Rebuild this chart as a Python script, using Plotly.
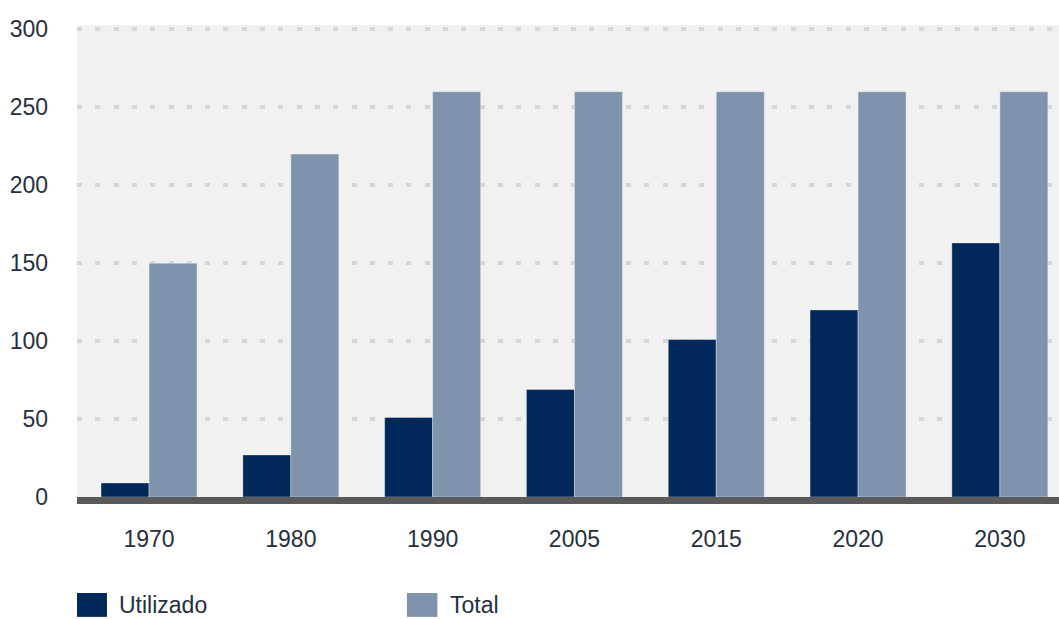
#!/usr/bin/env python3
import plotly.graph_objs as go
from typing import List

YEARS: List[str] = ['1970', '1980', '1990', '2005', '2015', '2020', '2030']
UTILIZADO: List[float] = [9, 27, 51, 69, 101, 120, 163]
TOTAL: List[float] = [150, 220, 260, 260, 260, 260, 260]
Y_TICKS: List[int] = [0, 50, 100, 150, 200, 250, 300]
LEGEND_NAMES: List[str] = ['Utilizado', 'Total']

NAVY: str = '#00285a'
STEEL: str = '#7f94ac'
TEXT: str = '#26303d'
FONT: str = 'Liberation Sans, Arial, sans-serif'


def build_figure() -> go.Figure:
    fig: go.Figure = go.Figure()
    for name, vals, color in [(LEGEND_NAMES[0], UTILIZADO, NAVY), (LEGEND_NAMES[1], TOTAL, STEEL)]:
        fig.add_trace(go.Bar(
            x=YEARS, y=vals, name=name,
            marker=dict(color=color, line=dict(color='rgba(255,255,255,0.35)', width=1)),
        ))

    fig.update_layout(
        width=1059, height=619,
        margin=dict(l=77, r=0, t=25, b=122),
        barmode='group', bargap=0.323, bargroupgap=0,
        paper_bgcolor='white',
        plot_bgcolor='#f1f1f1',
        showlegend=False,
        font=dict(family=FONT, size=23, color=TEXT),
        xaxis=dict(
            # the original chart is cropped on the right, last group sits near the edge
            range=[-0.508, 6.417],
            showgrid=False, zeroline=False,
            showline=True, linecolor='#5a5a5a', linewidth=7,
            ticks='', ticklabelstandoff=15,
            tickfont=dict(size=23, color=TEXT),
        ),
        yaxis=dict(
            range=[0, 302.8],
            tickvals=Y_TICKS,
            showgrid=True, gridcolor='#d6d6d6', gridwidth=4, griddash='5px,13.3px',
            zeroline=False, showline=False,
            ticks='', ticklabelstandoff=28,
            tickfont=dict(size=23, color=TEXT),
        ),
    )

    # legend drawn by hand, wide swatches like the original
    swatch_x = [(0.0, 0.0305), (0.336, 0.367)]
    for (x0, x1), name, color in zip(swatch_x, LEGEND_NAMES, [NAVY, STEEL]):
        fig.add_shape(type='rect', xref='paper', yref='paper',
                      x0=x0, x1=x1, y0=-0.254, y1=-0.2034,
                      fillcolor=color, line=dict(width=0))
        fig.add_annotation(xref='paper', yref='paper', x=x1 + 0.0105, y=-0.229,
                           text=name, showarrow=False, xanchor='left', yanchor='middle',
                           font=dict(size=23, color=TEXT, family=FONT))
    return fig


if __name__ == '__main__':
    fig = build_figure()
    # drop the browser's default 8px body margin so the figure fills the window
    fig.write_html('out.html', config={'displayModeBar': False},
                   post_script="document.body.style.margin='0';document.body.style.overflow='hidden';")
